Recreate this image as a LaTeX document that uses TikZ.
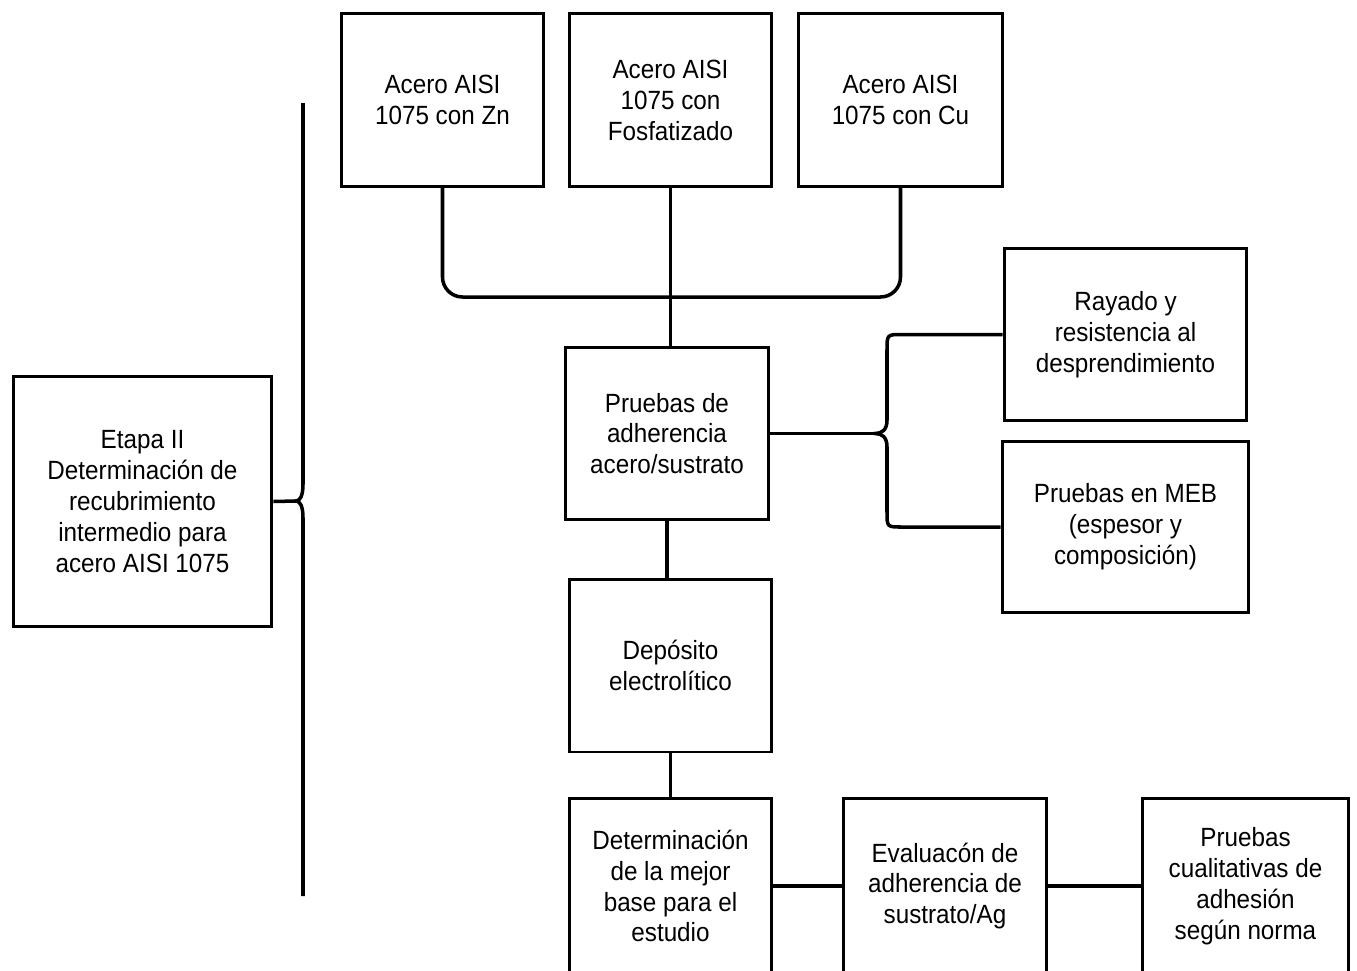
\documentclass[tikz,border=0pt]{standalone}
\usepackage{fontspec}
\setmainfont{Liberation Sans}[FakeStretch=0.92]
\usepackage{tikz}
\usetikzlibrary{positioning}

\begin{document}
\begin{tikzpicture}[
                    x=0.02cm, y=-0.02cm,
                    every node/.style={align=center, font=\fontsize{15}{17.6}\selectfont},
                    box/.style={draw, rectangle, line width=1.7pt, minimum width=4.06cm, minimum height=3.46cm, inner sep=0pt},
                    link/.style={draw, line width=2pt}
                    ]

  \useasboundingbox (0,0) rectangle (1357,971);

  \node[box, minimum width=5.18cm, minimum height=5.02cm] (etapa) at (142.5,501.5) {Etapa II\\Determinación de\\recubrimiento\\intermedio para\\acero AISI 1075};

  \node[box] (zn) at (442.5,100) {Acero AISI\\1075 con Zn};
  \node[box] (fosf) at (670.5,100) {Acero AISI\\1075 con\\Fosfatizado};
  \node[box, minimum width=4.1cm] (cu) at (900.5,100) {Acero AISI\\1075 con Cu};

  \node[box] (adh) at (667,433.5) {Pruebas de\\adherencia\\acero/sustrato};
  \node[box, minimum width=4.86cm] (ray) at (1125.5,334.5) {Rayado y\\resistencia al\\desprendimiento};
  \node[box, minimum width=4.94cm, minimum height=3.44cm] (meb) at (1125.5,527) {Pruebas en MEB\\(espesor y\\composición)};

  \node[box] (depo) at (670.5,665.5) {Depósito\\electrolítico};

  \node[box, minimum height=3.52cm] (mejor) at (670.5,886) {Determinación\\de la mejor\\base para el\\estudio};
  \node[box, minimum width=4.08cm, minimum height=3.52cm] (eval) at (945,886) {Evaluacón de\\adherencia de\\sustrato/Ag};
  \node[box, minimum width=4.14cm, minimum height=3.52cm] (cual) at (1245.5,886) {Pruebas\\cualitativas de\\adhesión\\según norma};

  \coordinate (ltop) at (303,103);
  \coordinate (ltip) at (296,501);
  \coordinate (lbot) at (303,896);
  \coordinate (join) at (670,297);
  \coordinate (rtip) at (875,433.5);

  \draw[link] (etapa.east) -- (ltip);
  \draw[link] (ltop) -- (303,484) .. controls (303,496) and (300,501) .. (ltip)
              .. controls (300,501) and (303,506) .. (303,518) -- (lbot);

  \draw[link, rounded corners=0.4cm] (zn.south) -- (zn.south |- join) -- (cu.south |- join) -- (cu.south);
  \draw[link] (fosf.south) -- (fosf.south |- adh.north);

  \draw[link] (adh.east) -- (rtip);
  \draw[link] (ray.west) -- (902,334.5) .. controls (887,334.5) .. (887,350) -- (887,420)
              .. controls (887,430) and (882,433.5) .. (rtip)
              .. controls (882,433.5) and (887,437) .. (887,447) -- (887,512)
              .. controls (887,527) .. (902,527) -- (meb.west);

  \draw[link] (adh.south) -- (adh.south |- depo.north);
  \draw[link] (depo.south) -- (mejor.north);
  \draw[link] (mejor.east) -- (eval.west);
  \draw[link] (eval.east) -- (cual.west);

\end{tikzpicture}
\end{document}
